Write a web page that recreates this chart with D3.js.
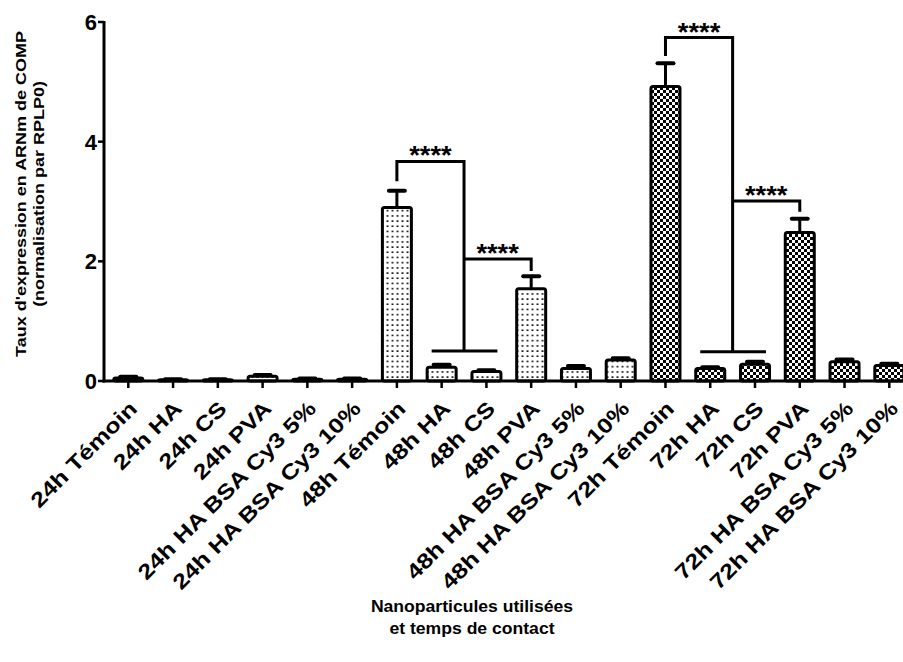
<!DOCTYPE html>
<html><head><meta charset="utf-8">
<script src="https://cdn.jsdelivr.net/npm/d3@7"></script>
<style>
body{margin:0;background:#fff}
svg{display:block}
text{font-family:Arial,"Liberation Sans",sans-serif;font-weight:bold;fill:#000}
</style>
</head><body>
<svg id="chart" width="903" height="662"></svg>
<script>
// ---------- data ----------
const categories = ["24h Témoin","24h HA","24h CS","24h PVA","24h HA BSA Cy3 5%","24h HA BSA Cy3 10%",
  "48h Témoin","48h HA","48h CS","48h PVA","48h HA BSA Cy3 5%","48h HA BSA Cy3 10%",
  "72h Témoin","72h HA","72h CS","72h PVA","72h HA BSA Cy3 5%","72h HA BSA Cy3 10%"];
const timeGroup = ["24h","24h","24h","24h","24h","24h","48h","48h","48h","48h","48h","48h","72h","72h","72h","72h","72h","72h"];
const means = [0.05,0.02,0.02,0.08,0.03,0.03, 2.90,0.23,0.16,1.54,0.21,0.35, 4.92,0.21,0.28,2.48,0.32,0.26];
const sems  = [0.02,0.01,0.01,0.02,0.01,0.01, 0.28,0.04,0.02,0.21,0.04,0.03, 0.39,0.02,0.04,0.23,0.04,0.03];
const yTicks = [0,2,4,6];
const yTitleLines = ["Taux d'expression en ARNm de COMP","(normalisation par RPLP0)"];
const xTitleLines = ["Nanoparticules utilisées","et temps de contact"];
// significance comparisons
const cmpControl = ["48h Témoin","72h Témoin"];
const cmpGroup = [["48h HA","48h CS"],["72h HA","72h CS"]];
const cmpTarget = ["48h PVA","72h PVA"];
const cmpTop = [3.67,5.74];
const cmpLeg = [3.34,5.43];
const cmpGroupLine = [0.50,0.49];
const cmpSubTop = [2.04,3.01];
const cmpSubLeg = [1.84,2.83];
const cmpLabels = ["****","****"];

// ---------- layout ----------
const svg = d3.select("#chart");
const x = d3.scalePoint().domain(categories).range([128.3, 889.3]);
const y = d3.scaleLinear().domain([0,6]).range([381, 22]);
const axisX0 = 104, barW = 29;

const defs = svg.append("defs");
const dots = defs.append("pattern").attr("id","dots").attr("patternUnits","userSpaceOnUse")
  .attr("width",5).attr("height",5.2);
dots.append("rect").attr("width",5).attr("height",5.2).attr("fill","#fff");
dots.append("rect").attr("x",1.5).attr("y",2).attr("width",2).attr("height",1.4).attr("fill","#000");
const checks = defs.append("pattern").attr("id","checks").attr("patternUnits","userSpaceOnUse")
  .attr("width",6).attr("height",6);
checks.append("rect").attr("width",6).attr("height",6).attr("fill","#000");
checks.append("rect").attr("width",3).attr("height",3).attr("fill","#fff");
checks.append("rect").attr("x",3).attr("y",3).attr("width",3).attr("height",3).attr("fill","#fff");

const fillFor = g => g === "72h" ? "url(#checks)" : "url(#dots)";

// bars
const idx = d3.range(categories.length);
svg.append("g").selectAll("rect").data(idx).join("rect")
  .attr("x", i => x(categories[i]) - barW/2)
  .attr("y", i => y(means[i]))
  .attr("width", barW)
  .attr("height", i => y(0) - y(means[i]))
  .attr("rx", 2)
  .attr("fill", i => fillFor(timeGroup[i]))
  .attr("stroke","#000").attr("stroke-width",3);

// error bars (upper)
const eb = svg.append("g").attr("stroke","#000");
eb.selectAll("line.v").data(idx).join("line").attr("class","v")
  .attr("x1", i => x(categories[i])).attr("x2", i => x(categories[i]))
  .attr("y1", i => y(means[i])).attr("y2", i => y(means[i]+sems[i]))
  .attr("stroke-width",3);
eb.selectAll("line.c").data(idx).join("line").attr("class","c")
  .attr("x1", i => x(categories[i]) - 8).attr("x2", i => x(categories[i]) + 8)
  .attr("y1", i => y(means[i]+sems[i])).attr("y2", i => y(means[i]+sems[i]))
  .attr("stroke-width",4).attr("stroke-linecap","round");

// axes
const ax = svg.append("g").attr("stroke","#000").attr("fill","none");
ax.append("line").attr("x1",axisX0).attr("x2",axisX0).attr("y1",y(6)-1).attr("y2",y(0)+1.5).attr("stroke-width",3);
ax.append("line").attr("x1",axisX0-1.5).attr("x2",903).attr("y1",y(0)).attr("y2",y(0)).attr("stroke-width",3);
yTicks.forEach(t => {
  ax.append("line").attr("x1",axisX0-6).attr("x2",axisX0).attr("y1",y(t)).attr("y2",y(t)).attr("stroke-width",2.5);
});
categories.forEach(c => {
  ax.append("line").attr("x1",x(c)).attr("x2",x(c)).attr("y1",y(0)).attr("y2",y(0)+7).attr("stroke-width",2.5);
});

// y tick labels
svg.append("g").selectAll("text").data(yTicks).join("text")
  .attr("transform", t => `translate(${axisX0-7},${y(t)})`)
  .attr("text-anchor","end").attr("dy","0.36em").attr("font-size",22)
  .text(t => t);

// x tick labels (rotated)
svg.append("g").selectAll("text").data(categories).join("text")
  .attr("transform", c => `translate(${x(c)+10},410) rotate(-45) scale(1.2,1)`)
  .attr("text-anchor","end").attr("font-size",21)
  .text(c => c);

// y title
svg.append("g").selectAll("text").data(yTitleLines).join("text")
  .attr("transform", (d,i) => `translate(${26 + i*18},194) rotate(-90) scale(1.2,1)`)
  .attr("text-anchor","middle").attr("font-size",15)
  .text(d => d);

// x title
svg.append("g").selectAll("text").data(xTitleLines).join("text")
  .attr("transform", (d,i) => `translate(472,${612 + i*22}) scale(1.1,1)`)
  .attr("text-anchor","middle").attr("font-size",16)
  .text(d => d);

// significance brackets
const br = svg.append("g");
cmpControl.forEach((ctrl, k) => {
  const xc = x(ctrl);
  const ga = x(cmpGroup[k][0]), gb = x(cmpGroup[k][1]);
  const xj = (ga + gb) / 2;
  const xt = x(cmpTarget[k]);
  br.append("path").attr("fill","none").attr("stroke","#000").attr("stroke-width",3)
    .attr("d", `M${xc},${y(cmpLeg[k])}V${y(cmpTop[k])}H${xj}V${y(cmpGroupLine[k])}`);
  br.append("line").attr("stroke","#000").attr("stroke-width",3)
    .attr("x1", ga - 10).attr("x2", gb + 11)
    .attr("y1", y(cmpGroupLine[k])).attr("y2", y(cmpGroupLine[k]));
  br.append("path").attr("fill","none").attr("stroke","#000").attr("stroke-width",3)
    .attr("d", `M${xj},${y(cmpSubTop[k])}H${xt}V${y(cmpSubLeg[k])}`);
  br.append("text").attr("transform", `translate(${(xc+xj)/2},${y(cmpTop[k])+3}) scale(1.05,1)`)
    .attr("text-anchor","middle").attr("font-size",26).text(cmpLabels[k]);
  br.append("text").attr("transform", `translate(${(xj+xt)/2},${y(cmpSubTop[k])+3}) scale(1.05,1)`)
    .attr("text-anchor","middle").attr("font-size",26).text(cmpLabels[k]);
});
</script>
</body></html>
